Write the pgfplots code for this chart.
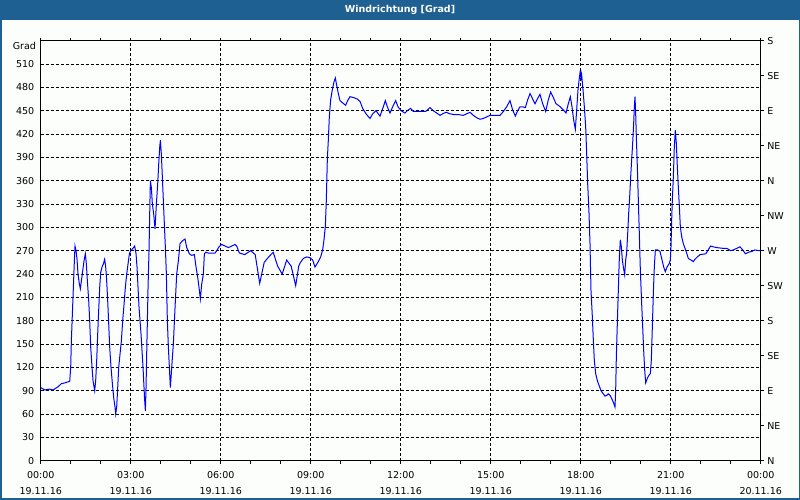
\documentclass[border=0pt]{standalone}
\usepackage{fontspec}
\setmainfont{DejaVu Sans}
\usepackage{pgfplots}
\usepackage{pgfplotstable}
\pgfplotsset{compat=1.18}
\definecolor{frameblue}{RGB}{31,96,146}
\definecolor{paper}{RGB}{252,254,252}

% wind direction, hours since 19.11.16 00:00 / degrees
\pgfplotstableread{
h v
0.000 94
0.133 91
0.300 92
0.411 91
0.578 95
0.689 99
0.800 100
0.967 102
1.000 120
1.022 154
1.056 189
1.089 223
1.122 257
1.144 276
1.178 270
1.211 259
1.244 240
1.289 227
1.322 221
1.356 231
1.400 244
1.444 257
1.489 266
1.522 253
1.556 231
1.600 206
1.633 180
1.667 146
1.711 120
1.744 103
1.800 90
1.833 103
1.867 129
1.900 163
1.933 193
1.967 223
2.000 242
2.044 249
2.089 253
2.133 259
2.167 249
2.200 231
2.233 206
2.267 176
2.300 146
2.344 120
2.389 99
2.433 81
2.478 69
2.500 60
2.533 69
2.567 94
2.600 120
2.644 137
2.689 154
2.733 180
2.778 201
2.822 223
2.867 240
2.911 253
2.956 266
3.000 270
3.056 272
3.133 276
3.178 266
3.211 249
3.244 223
3.278 197
3.311 180
3.344 163
3.378 141
3.411 120
3.444 94
3.467 77
3.489 64
3.511 94
3.533 137
3.556 180
3.578 223
3.611 270
3.633 317
3.656 360
3.689 351
3.722 330
3.767 317
3.811 298
3.856 330
3.900 356
3.933 381
3.967 403
3.989 412
4.022 394
4.056 364
4.089 334
4.122 304
4.156 274
4.189 240
4.222 180
4.256 146
4.289 120
4.322 94
4.367 120
4.422 150
4.478 197
4.533 240
4.589 257
4.644 279
4.733 283
4.811 285
4.867 274
4.956 266
5.033 264
5.122 265
5.178 249
5.233 236
5.289 219
5.322 208
5.367 227
5.422 240
5.456 266
5.500 268
5.589 267
5.700 267
5.811 267
5.867 270
5.944 275
6.033 278
6.144 276
6.256 274
6.367 276
6.478 278
6.533 276
6.622 267
6.800 265
7.000 270
7.150 265
7.300 228
7.450 255
7.600 262
7.750 268
7.900 250
8.050 240
8.200 258
8.350 250
8.500 225
8.600 250
8.643 254
8.754 260
8.865 262
8.976 261
9.065 258
9.143 249
9.254 256
9.332 262
9.398 271
9.443 284
9.487 301
9.521 335
9.554 387
9.587 412
9.621 442
9.665 464
9.721 477
9.776 487
9.821 492
9.865 483
9.921 472
9.976 463
10.065 460
10.165 457
10.232 463
10.310 468
10.421 467
10.554 465
10.643 462
10.732 453
10.843 446
10.976 440
11.065 446
11.176 450
11.310 443
11.421 455
11.487 463
11.554 455
11.643 447
11.732 455
11.832 463
11.910 455
12.010 450
12.143 447
12.221 450
12.332 453
12.421 449
12.587 449
12.832 449
12.976 454
13.087 450
13.199 447
13.310 444
13.399 446
13.510 448
13.643 446
13.776 445
13.921 445
14.087 444
14.199 446
14.310 448
14.421 444
14.532 441
14.643 439
14.754 440
14.865 442
14.976 444
15.087 444
15.310 444
15.421 449
15.532 455
15.643 463
15.732 451
15.821 443
15.887 449
15.976 455
16.065 455
16.154 454
16.232 464
16.310 472
16.387 466
16.476 459
16.554 465
16.643 471
16.732 459
16.832 449
16.921 464
16.999 474
17.087 467
17.176 459
17.287 456
17.421 451
17.510 447
17.587 459
17.654 468
17.710 455
17.765 438
17.821 426
17.866 451
17.910 477
17.954 492
17.988 502
18.010 489
18.032 496
18.077 477
18.121 455
18.166 429
18.199 395
18.232 357
18.277 318
18.310 279
18.343 219
18.388 185
18.421 155
18.454 129
18.499 112
18.554 103
18.610 97
18.677 90
18.754 86
18.810 83
18.866 84
18.921 86
18.977 84
19.032 80
19.099 74
19.143 69
19.166 91
19.188 134
19.221 177
19.254 219
19.288 261
19.321 284
19.354 275
19.388 258
19.421 249
19.466 239
19.499 258
19.532 267
19.566 292
19.599 318
19.632 339
19.666 365
19.699 387
19.732 408
19.766 434
19.788 455
19.810 468
19.832 447
19.854 417
19.888 378
19.921 335
19.954 292
19.988 245
20.032 202
20.066 172
20.099 142
20.132 117
20.166 100
20.221 106
20.277 110
20.321 112
20.354 129
20.388 172
20.421 215
20.454 249
20.488 271
20.566 271
20.643 269
20.699 260
20.766 249
20.821 243
20.877 249
20.943 253
20.988 258
21.010 275
21.032 309
21.054 335
21.088 365
21.121 404
21.154 425
21.188 408
21.221 378
21.254 352
21.288 327
21.321 301
21.366 288
21.421 279
21.477 273
21.532 267
21.588 260
21.677 258
21.755 256
21.810 259
21.888 262
21.980 265
22.170 266
22.250 271
22.330 276
22.420 275
22.530 274
22.750 273
22.870 273
23.000 270
23.090 271
23.200 273
23.310 275
23.400 271
23.490 266
23.590 268
23.700 269
23.810 271
23.940 270
24.000 270
}\winddata

\begin{document}
\begin{tikzpicture}
% window frame, title bar (axis box sits at the origin)
\fill[frameblue] (-40.7pt,-39.3pt) rectangle (759.3pt,460.7pt);
\fill[paper] (-38.7pt,-37.8pt) rectangle (757.8pt,440.7pt);
\node[text=white,font=\fontsize{9.5}{11}\selectfont\bfseries] at (359.3pt,450.7pt) {Windrichtung [Grad]};
\node[anchor=east,font=\fontsize{9.5}{11}\selectfont,inner sep=0pt] at (-4.5pt,414.7pt) {Grad};

\begin{axis}[
  scale only axis, width=720pt, height=420pt,
  xmin=0, xmax=24, ymin=0, ymax=540,
  xtick={0,3,...,24},
  minor xtick={1,2,4,5,7,8,10,11,13,14,16,17,19,20,22,23},
  xticklabels={{00:00\\19.11.16},{03:00\\19.11.16},{06:00\\19.11.16},
    {09:00\\19.11.16},{12:00\\19.11.16},{15:00\\19.11.16},
    {18:00\\19.11.16},{21:00\\19.11.16},{00:00\\20.11.16}},
  ytick={0,30,...,510},
  grid=major,
  major grid style={black, line width=0.8pt, dash pattern=on 3pt off 2pt},
  tick align=outside,
  major tick length=3pt, minor tick length=3pt,
  ytick style={draw=none},
  xtick style={black, line width=0.8pt},
  axis line style={line width=1pt},
  tick label style={font=\fontsize{9.5}{16}\selectfont},
  xticklabel style={align=center, yshift=-4pt},
  /pgf/number format/assume math mode=true,
]
\addplot[blue, line width=1pt] table[x=h, y=v] {\winddata};
\end{axis}

\begin{axis}[
  scale only axis, width=720pt, height=420pt,
  xmin=0, xmax=24, ymin=0, ymax=540,
  axis x line=none, axis y line*=right,
  ytick={0,45,...,540},
  yticklabels={N,NE,E,SE,S,SW,W,NW,N,NE,E,SE,S},
  tick align=outside, major tick length=3pt,
  ytick style={black, line width=0.8pt},
  axis line style={line width=1pt},
  tick label style={font=\fontsize{9.5}{11}\selectfont},
]
\end{axis}
\end{tikzpicture}
\end{document}
